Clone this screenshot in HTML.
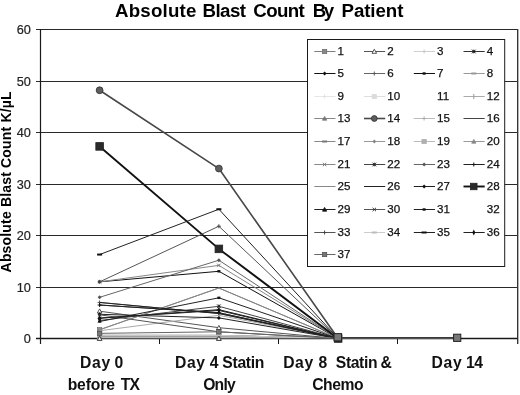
<!DOCTYPE html><html><head><meta charset="utf-8"><style>
html,body{margin:0;padding:0;background:#fff;}
svg{filter:grayscale(1) blur(0.45px);}
body{width:520px;height:395px;overflow:hidden;}
svg{display:block;}
text{font-family:"Liberation Sans",sans-serif;}
</style></head><body>
<svg width="520" height="395" viewBox="0 0 520 395">
<rect x="0" y="0" width="520" height="395" fill="#fff"/>
<text x="115.0" y="17" font-weight="bold" font-size="18.7" textLength="81.35" lengthAdjust="spacing" fill="#000">Absolute</text>
<text x="202.5" y="17" font-weight="bold" font-size="18.7" textLength="43.49" lengthAdjust="spacing" fill="#000">Blast</text>
<text x="253.3" y="17" font-weight="bold" font-size="18.7" textLength="51.38" lengthAdjust="spacing" fill="#000">Count</text>
<text x="312.75" y="17" font-weight="bold" font-size="18.7" textLength="21.39" lengthAdjust="spacing" fill="#000">By</text>
<text x="341.5" y="17" font-weight="bold" font-size="18.7" textLength="61.9" lengthAdjust="spacing" fill="#000">Patient</text>
<text transform="translate(11.0,272.4) rotate(-90)" x="0" y="0" font-weight="bold" font-size="14" textLength="180.97" lengthAdjust="spacing" fill="#000">Absolute Blast Count K/µL</text>
<line x1="36" y1="29.5" x2="517" y2="29.5" stroke="#2a2a2a" stroke-width="1"/>
<line x1="36" y1="81.5" x2="517" y2="81.5" stroke="#2a2a2a" stroke-width="1"/>
<line x1="36" y1="132.5" x2="517" y2="132.5" stroke="#2a2a2a" stroke-width="1"/>
<line x1="36" y1="184.5" x2="517" y2="184.5" stroke="#2a2a2a" stroke-width="1"/>
<line x1="36" y1="235.5" x2="517" y2="235.5" stroke="#2a2a2a" stroke-width="1"/>
<line x1="36" y1="287.5" x2="517" y2="287.5" stroke="#2a2a2a" stroke-width="1"/>
<line x1="36" y1="338.5" x2="518" y2="338.5" stroke="#1a1a1a" stroke-width="1.3"/>
<line x1="40.5" y1="29" x2="40.5" y2="344" stroke="#1a1a1a" stroke-width="1.2"/>
<line x1="517.7" y1="29" x2="517.7" y2="344" stroke="#2a2a2a" stroke-width="1.3"/>
<line x1="159.5" y1="338" x2="159.5" y2="344" stroke="#1a1a1a" stroke-width="1"/>
<line x1="278.5" y1="338" x2="278.5" y2="344" stroke="#1a1a1a" stroke-width="1"/>
<line x1="397.5" y1="338" x2="397.5" y2="344" stroke="#1a1a1a" stroke-width="1"/>
<text x="30.9" y="34.4" text-anchor="end" font-size="12.7" fill="#222" stroke="#222" stroke-width="0.2">60</text>
<text x="30.9" y="86.4" text-anchor="end" font-size="12.7" fill="#222" stroke="#222" stroke-width="0.2">50</text>
<text x="30.9" y="137.4" text-anchor="end" font-size="12.7" fill="#222" stroke="#222" stroke-width="0.2">40</text>
<text x="30.9" y="189.4" text-anchor="end" font-size="12.7" fill="#222" stroke="#222" stroke-width="0.2">30</text>
<text x="30.9" y="240.4" text-anchor="end" font-size="12.7" fill="#222" stroke="#222" stroke-width="0.2">20</text>
<text x="30.9" y="292.4" text-anchor="end" font-size="12.7" fill="#222" stroke="#222" stroke-width="0.2">10</text>
<text x="30.9" y="343.4" text-anchor="end" font-size="12.7" fill="#222" stroke="#222" stroke-width="0.2">0</text>
<text x="80.0" y="368" font-weight="bold" font-size="15.7" textLength="30.17" lengthAdjust="spacing" fill="#111">Day</text>
<text x="114.5" y="368" font-weight="bold" font-size="15.7" fill="#111">0</text>
<text x="174.9" y="368" font-weight="bold" font-size="15.7" textLength="30.17" lengthAdjust="spacing" fill="#111">Day</text>
<text x="209.8" y="368" font-weight="bold" font-size="15.7" fill="#111">4</text>
<text x="222.3" y="368" font-weight="bold" font-size="15.7" textLength="42.16" lengthAdjust="spacing" fill="#111">Statin</text>
<text x="283.2" y="368" font-weight="bold" font-size="15.7" textLength="29.97" lengthAdjust="spacing" fill="#111">Day</text>
<text x="318.6" y="368" font-weight="bold" font-size="15.7" fill="#111">8</text>
<text x="335.8" y="368" font-weight="bold" font-size="15.7" textLength="41.76" lengthAdjust="spacing" fill="#111">Statin</text>
<text x="380.6" y="368" font-weight="bold" font-size="15.7" fill="#111">&amp;</text>
<text x="431.5" y="368" font-weight="bold" font-size="15.7" textLength="30.17" lengthAdjust="spacing" fill="#111">Day</text>
<text x="465.9" y="368" font-weight="bold" font-size="15.7" textLength="17.04" lengthAdjust="spacing" fill="#111">14</text>
<text x="67.65" y="390" font-weight="bold" font-size="15.7" textLength="47.22" lengthAdjust="spacing" fill="#111">before</text>
<text x="120.8" y="390" font-weight="bold" font-size="15.7" textLength="19.05" lengthAdjust="spacing" fill="#111">TX</text>
<text x="203.2" y="390" font-weight="bold" font-size="15.7" textLength="32.46" lengthAdjust="spacing" fill="#111">Only</text>
<text x="312.2" y="390" font-weight="bold" font-size="15.7" textLength="51.36" lengthAdjust="spacing" fill="#111">Chemo</text>
<path d="M99.62 329.75 L218.88 288.03 L338.12 338.50" fill="none" stroke="#808080" stroke-width="1" stroke-linejoin="round"/>
<rect x="97.42" y="327.55" width="4.40" height="4.40" fill="#888" stroke="#666" stroke-width="0.6"/>
<rect x="335.93" y="336.30" width="4.40" height="4.40" fill="#888" stroke="#666" stroke-width="0.6"/>
<path d="M99.62 311.20 L218.88 327.69 L338.12 338.50" fill="none" stroke="#555" stroke-width="1" stroke-linejoin="round"/>
<path d="M99.62 308.90L101.92 313.04L97.33 313.04Z" fill="#fff" stroke="#444" stroke-width="0.9"/>
<path d="M218.88 325.38L221.18 329.52L216.57 329.52Z" fill="#fff" stroke="#444" stroke-width="0.9"/>
<path d="M338.12 336.20L340.43 340.34L335.82 340.34Z" fill="#fff" stroke="#444" stroke-width="0.9"/>
<path d="M99.62 336.70 L218.88 336.70 L338.12 338.50" fill="none" stroke="#cfcfcf" stroke-width="1" stroke-linejoin="round"/>
<path d="M99.62 334.70V338.70M97.62 336.70H101.62" stroke="#c8c8c8" stroke-width="1"/>
<path d="M218.88 334.70V338.70M216.88 336.70H220.88" stroke="#c8c8c8" stroke-width="1"/>
<path d="M338.12 336.50V340.50M336.12 338.50H340.12" stroke="#c8c8c8" stroke-width="1"/>
<path d="M99.62 338.50 L218.88 338.50 L338.12 338.50" fill="none" stroke="#333" stroke-width="1" stroke-linejoin="round"/>
<path d="M97.83 336.70L101.42 340.30M101.42 336.70L97.83 340.30M99.62 336.70V340.30" stroke="#111" stroke-width="1"/>
<path d="M217.07 336.70L220.68 340.30M220.68 336.70L217.07 340.30M218.88 336.70V340.30" stroke="#111" stroke-width="1"/>
<path d="M336.32 336.70L339.93 340.30M339.93 336.70L336.32 340.30M338.12 336.70V340.30" stroke="#111" stroke-width="1"/>
<path d="M99.62 318.16 L218.88 309.66 L338.12 338.50" fill="none" stroke="#111" stroke-width="1" stroke-linejoin="round"/>
<path d="M99.62 316.16L101.62 318.16L99.62 320.16L97.62 318.16Z" fill="#111"/>
<path d="M218.88 307.66L220.88 309.66L218.88 311.66L216.88 309.66Z" fill="#111"/>
<path d="M338.12 336.50L340.12 338.50L338.12 340.50L336.12 338.50Z" fill="#111"/>
<path d="M99.62 302.45 L218.88 313.52 L338.12 338.50" fill="none" stroke="#666" stroke-width="1" stroke-linejoin="round"/>
<path d="M99.62 300.45V304.45M97.62 302.45H101.62" stroke="#555" stroke-width="1"/>
<path d="M218.88 311.52V315.52M216.88 313.52H220.88" stroke="#555" stroke-width="1"/>
<path d="M338.12 336.50V340.50M336.12 338.50H340.12" stroke="#555" stroke-width="1"/>
<path d="M99.62 281.85 L218.88 271.29 L338.12 338.50" fill="none" stroke="#111" stroke-width="1" stroke-linejoin="round"/>
<rect x="98.12" y="280.65" width="3.00" height="2.40" fill="#111"/>
<rect x="217.38" y="270.09" width="3.00" height="2.40" fill="#111"/>
<rect x="336.62" y="337.30" width="3.00" height="2.40" fill="#111"/>
<path d="M99.62 335.41 L218.88 335.41 L338.12 338.50" fill="none" stroke="#9a9a9a" stroke-width="1" stroke-linejoin="round"/>
<rect x="97.12" y="334.41" width="5.00" height="2.00" fill="#999"/>
<rect x="216.38" y="334.41" width="5.00" height="2.00" fill="#999"/>
<rect x="335.62" y="337.50" width="5.00" height="2.00" fill="#999"/>
<path d="M99.62 336.70 L218.88 336.70 L338.12 338.50" fill="none" stroke="#e6e6e6" stroke-width="1" stroke-linejoin="round"/>
<path d="M99.62 334.70V338.70M97.62 336.70H101.62" stroke="#e0e0e0" stroke-width="1"/>
<path d="M218.88 334.70V338.70M216.88 336.70H220.88" stroke="#e0e0e0" stroke-width="1"/>
<path d="M338.12 336.50V340.50M336.12 338.50H340.12" stroke="#e0e0e0" stroke-width="1"/>
<path d="M99.62 336.70 L218.88 336.70 L338.12 338.50" fill="none" stroke="#dedede" stroke-width="1" stroke-linejoin="round"/>
<rect x="97.42" y="334.50" width="4.40" height="4.40" fill="#dcdcdc" stroke="#d8d8d8" stroke-width="0.6"/>
<rect x="216.68" y="334.50" width="4.40" height="4.40" fill="#dcdcdc" stroke="#d8d8d8" stroke-width="0.6"/>
<rect x="335.93" y="336.30" width="4.40" height="4.40" fill="#dcdcdc" stroke="#d8d8d8" stroke-width="0.6"/>
<path d="M99.62 330.77 L218.88 315.32 L338.12 338.50" fill="none" stroke="#aaa" stroke-width="1" stroke-linejoin="round"/>
<path d="M99.62 328.17V333.38" stroke="#999" stroke-width="1"/>
<path d="M218.88 312.72V317.93" stroke="#999" stroke-width="1"/>
<path d="M338.12 335.90V341.10" stroke="#999" stroke-width="1"/>
<path d="M99.62 335.41 L218.88 335.41 L338.12 338.50" fill="none" stroke="#888" stroke-width="1" stroke-linejoin="round"/>
<path d="M99.62 333.31L101.72 337.09L97.53 337.09Z" fill="#777" stroke="#777" stroke-width="0.8"/>
<path d="M218.88 333.31L220.97 337.09L216.78 337.09Z" fill="#777" stroke="#777" stroke-width="0.8"/>
<path d="M338.12 336.40L340.23 340.18L336.02 340.18Z" fill="#777" stroke="#777" stroke-width="0.8"/>
<path d="M99.62 90.27 L218.88 168.55 L338.12 338.50" fill="none" stroke="#484848" stroke-width="1.6" stroke-linejoin="round"/>
<circle cx="99.62" cy="90.27" r="3.40" fill="#5e5e5e" stroke="#383838" stroke-width="0.9"/>
<circle cx="218.88" cy="168.55" r="3.40" fill="#5e5e5e" stroke="#383838" stroke-width="0.9"/>
<circle cx="338.12" cy="338.50" r="3.40" fill="#5e5e5e" stroke="#383838" stroke-width="0.9"/>
<path d="M99.62 335.41 L218.88 335.41 L338.12 338.50" fill="none" stroke="#bbb" stroke-width="1" stroke-linejoin="round"/>
<path d="M99.62 333.41V337.41M97.62 335.41H101.62" stroke="#aaa" stroke-width="1"/>
<path d="M218.88 333.41V337.41M216.88 335.41H220.88" stroke="#aaa" stroke-width="1"/>
<path d="M338.12 336.50V340.50M336.12 338.50H340.12" stroke="#aaa" stroke-width="1"/>
<path d="M99.62 305.02 L218.88 312.75 L338.12 338.50" fill="none" stroke="#444" stroke-width="1" stroke-linejoin="round"/>



<path d="M99.62 335.41 L218.88 335.41 L338.12 338.50" fill="none" stroke="#888" stroke-width="1" stroke-linejoin="round"/>
<rect x="97.12" y="334.41" width="5.00" height="2.00" fill="#777"/>
<rect x="216.38" y="334.41" width="5.00" height="2.00" fill="#777"/>
<rect x="335.62" y="337.50" width="5.00" height="2.00" fill="#777"/>
<path d="M99.62 336.70 L218.88 336.70 L338.12 338.50" fill="none" stroke="#999" stroke-width="1" stroke-linejoin="round"/>
<path d="M99.62 334.70L101.62 336.70L99.62 338.70L97.62 336.70Z" fill="#888"/>
<path d="M218.88 334.70L220.88 336.70L218.88 338.70L216.88 336.70Z" fill="#888"/>
<path d="M338.12 336.50L340.12 338.50L338.12 340.50L336.12 338.50Z" fill="#888"/>
<path d="M99.62 336.70 L218.88 336.70 L338.12 338.50" fill="none" stroke="#bbb" stroke-width="1" stroke-linejoin="round"/>
<rect x="97.42" y="334.50" width="4.40" height="4.40" fill="#b0b0b0" stroke="#aaa" stroke-width="0.6"/>
<rect x="216.68" y="334.50" width="4.40" height="4.40" fill="#b0b0b0" stroke="#aaa" stroke-width="0.6"/>
<rect x="335.93" y="336.30" width="4.40" height="4.40" fill="#b0b0b0" stroke="#aaa" stroke-width="0.6"/>
<path d="M99.62 336.70 L218.88 336.70 L338.12 338.50" fill="none" stroke="#999" stroke-width="1" stroke-linejoin="round"/>
<path d="M99.62 334.60L101.72 338.38L97.53 338.38Z" fill="#888" stroke="#888" stroke-width="0.8"/>
<path d="M218.88 334.60L220.97 338.38L216.78 338.38Z" fill="#888" stroke="#888" stroke-width="0.8"/>
<path d="M338.12 336.40L340.23 340.18L336.02 340.18Z" fill="#888" stroke="#888" stroke-width="0.8"/>
<path d="M99.62 281.85 L218.88 265.37 L338.12 338.50" fill="none" stroke="#888" stroke-width="1" stroke-linejoin="round"/>
<path d="M97.92 280.15L101.33 283.55M101.33 280.15L97.92 283.55" stroke="#777" stroke-width="1"/>
<path d="M217.18 263.67L220.57 267.07M220.57 263.67L217.18 267.07" stroke="#777" stroke-width="1"/>
<path d="M336.43 336.80L339.82 340.20M339.82 336.80L336.43 340.20" stroke="#777" stroke-width="1"/>
<path d="M99.62 320.48 L218.88 306.31 L338.12 338.50" fill="none" stroke="#444" stroke-width="1" stroke-linejoin="round"/>
<path d="M97.83 318.68L101.42 322.28M101.42 318.68L97.83 322.28M99.62 318.68V322.28" stroke="#222" stroke-width="1"/>
<path d="M217.07 304.51L220.68 308.11M220.68 304.51L217.07 308.11M218.88 304.51V308.11" stroke="#222" stroke-width="1"/>
<path d="M336.32 336.70L339.93 340.30M339.93 336.70L336.32 340.30M338.12 336.70V340.30" stroke="#222" stroke-width="1"/>
<path d="M99.62 297.30 L218.88 260.22 L338.12 338.50" fill="none" stroke="#666" stroke-width="1" stroke-linejoin="round"/>
<path d="M99.62 295.30L101.62 297.30L99.62 299.30L97.62 297.30Z" fill="#555"/>
<path d="M218.88 258.22L220.88 260.22L218.88 262.22L216.88 260.22Z" fill="#555"/>
<path d="M338.12 336.50L340.12 338.50L338.12 340.50L336.12 338.50Z" fill="#555"/>
<path d="M99.62 305.02 L218.88 312.75 L338.12 338.50" fill="none" stroke="#222" stroke-width="1" stroke-linejoin="round"/>
<path d="M99.62 303.02V307.02M97.62 305.02H101.62" stroke="#111" stroke-width="1"/>
<path d="M218.88 310.75V314.75M216.88 312.75H220.88" stroke="#111" stroke-width="1"/>
<path d="M338.12 336.50V340.50M336.12 338.50H340.12" stroke="#111" stroke-width="1"/>
<path d="M99.62 329.75 L218.88 288.03 L338.12 338.50" fill="none" stroke="#888" stroke-width="1" stroke-linejoin="round"/>



<path d="M99.62 302.45 L218.88 313.52 L338.12 338.50" fill="none" stroke="#222" stroke-width="1" stroke-linejoin="round"/>



<path d="M99.62 314.30 L218.88 317.90 L338.12 338.50" fill="none" stroke="#222" stroke-width="1" stroke-linejoin="round"/>
<path d="M99.62 312.30L101.62 314.30L99.62 316.30L97.62 314.30Z" fill="#111"/>
<path d="M218.88 315.90L220.88 317.90L218.88 319.90L216.88 317.90Z" fill="#111"/>
<path d="M338.12 336.50L340.12 338.50L338.12 340.50L336.12 338.50Z" fill="#111"/>
<path d="M99.62 146.41 L218.88 248.89 L338.12 338.50" fill="none" stroke="#111" stroke-width="1.9" stroke-linejoin="round"/>
<rect x="95.83" y="142.60" width="7.60" height="7.60" fill="#2a2a2a" stroke="#222" stroke-width="0.8"/>
<rect x="215.07" y="245.09" width="7.60" height="7.60" fill="#2a2a2a" stroke="#222" stroke-width="0.8"/>
<rect x="334.32" y="334.70" width="7.60" height="7.60" fill="#2a2a2a" stroke="#222" stroke-width="0.8"/>
<path d="M99.62 338.50 L218.88 338.50 L338.12 338.50" fill="none" stroke="#222" stroke-width="1" stroke-linejoin="round"/>
<path d="M99.62 336.40L101.72 340.18L97.53 340.18Z" fill="#111" stroke="#111" stroke-width="0.8"/>
<path d="M218.88 336.40L220.97 340.18L216.78 340.18Z" fill="#111" stroke="#111" stroke-width="0.8"/>
<path d="M338.12 336.40L340.23 340.18L336.02 340.18Z" fill="#111" stroke="#111" stroke-width="0.8"/>
<path d="M99.62 314.81 L218.88 331.81 L338.12 338.50" fill="none" stroke="#555" stroke-width="1" stroke-linejoin="round"/>
<path d="M97.92 313.11L101.33 316.51M101.33 313.11L97.92 316.51" stroke="#333" stroke-width="1"/>
<path d="M217.18 330.11L220.57 333.50M220.57 330.11L217.18 333.50" stroke="#333" stroke-width="1"/>
<path d="M336.43 336.80L339.82 340.20M339.82 336.80L336.43 340.20" stroke="#333" stroke-width="1"/>
<path d="M99.62 321.50 L218.88 297.81 L338.12 338.50" fill="none" stroke="#222" stroke-width="1" stroke-linejoin="round"/>
<rect x="98.12" y="320.31" width="3.00" height="2.40" fill="#111"/>
<rect x="217.38" y="296.62" width="3.00" height="2.40" fill="#111"/>
<rect x="336.62" y="337.30" width="3.00" height="2.40" fill="#111"/>
<path d="M99.62 281.85 L218.88 226.23 L338.12 338.50" fill="none" stroke="#555" stroke-width="1" stroke-linejoin="round"/>
<path d="M99.62 279.85V283.85M97.62 281.85H101.62" stroke="#444" stroke-width="1"/>
<path d="M218.88 224.23V228.23M216.88 226.23H220.88" stroke="#444" stroke-width="1"/>
<path d="M338.12 336.50V340.50M336.12 338.50H340.12" stroke="#444" stroke-width="1"/>
<path d="M99.62 335.41 L218.88 335.41 L338.12 338.50" fill="none" stroke="#ccc" stroke-width="1" stroke-linejoin="round"/>
<rect x="97.12" y="334.41" width="5.00" height="2.00" fill="#bbb"/>
<rect x="216.38" y="334.41" width="5.00" height="2.00" fill="#bbb"/>
<rect x="335.62" y="337.50" width="5.00" height="2.00" fill="#bbb"/>
<path d="M99.62 254.56 L218.88 209.23 L338.12 338.50" fill="none" stroke="#222" stroke-width="1" stroke-linejoin="round"/>
<rect x="97.12" y="253.56" width="5.00" height="2.00" fill="#111"/>
<rect x="216.38" y="208.23" width="5.00" height="2.00" fill="#111"/>
<rect x="335.62" y="337.50" width="5.00" height="2.00" fill="#111"/>
<path d="M99.62 318.16 L218.88 310.43 L338.12 338.50" fill="none" stroke="#222" stroke-width="1" stroke-linejoin="round"/>
<path d="M99.62 315.16L101.12 318.16L99.62 321.16L98.12 318.16Z" fill="#111"/>
<path d="M218.88 307.43L220.38 310.43L218.88 313.43L217.38 310.43Z" fill="#111"/>
<path d="M338.12 335.50L339.62 338.50L338.12 341.50L336.62 338.50Z" fill="#111"/>
<path d="M99.62 333.35 L218.88 331.81 L338.12 338.50 L457.38 338.50" fill="none" stroke="#666" stroke-width="1" stroke-linejoin="round"/>
<rect x="97.42" y="331.15" width="4.40" height="4.40" fill="#777" stroke="#444" stroke-width="0.6"/>
<rect x="216.68" y="329.61" width="4.40" height="4.40" fill="#777" stroke="#444" stroke-width="0.6"/>
<rect x="335.93" y="336.30" width="4.40" height="4.40" fill="#777" stroke="#444" stroke-width="0.6"/>
<rect x="455.18" y="336.30" width="4.40" height="4.40" fill="#777" stroke="#444" stroke-width="0.6"/>
<path d="M99.62 338.50 L218.88 338.50 L338.12 338.50" fill="none" stroke="#555" stroke-width="1" stroke-linejoin="round"/>
<path d="M99.62 336.20L101.92 340.34L97.33 340.34Z" fill="#fff" stroke="#444" stroke-width="0.9"/>
<path d="M218.88 336.20L221.18 340.34L216.57 340.34Z" fill="#fff" stroke="#444" stroke-width="0.9"/>
<path d="M338.12 336.20L340.43 340.34L335.82 340.34Z" fill="#fff" stroke="#444" stroke-width="0.9"/>
<line x1="338" y1="337.8" x2="457" y2="337.8" stroke="#3a3a3a" stroke-width="1.4"/>
<rect x="334.0" y="333.6" width="7.6" height="7.3" fill="#777" stroke="#222" stroke-width="1"/>
<rect x="453.6" y="334.2" width="7.2" height="7.2" fill="#777" stroke="#222" stroke-width="1"/>
<rect x="307.5" y="39.5" width="197.2" height="227" fill="#fff" stroke="#1a1a1a" stroke-width="1"/>
<line x1="314.3" y1="51.50" x2="335.50" y2="51.50" stroke="#808080" stroke-width="1"/>
<rect x="322.40" y="49.30" width="4.40" height="4.40" fill="#888" stroke="#666" stroke-width="0.6"/>
<text x="337.60" y="55.25" font-size="11.6" fill="#111" stroke="#111" stroke-width="0.25">1</text>
<line x1="364.0" y1="51.50" x2="385.20" y2="51.50" stroke="#555" stroke-width="1"/>
<path d="M374.30 49.20L376.60 53.34L372.00 53.34Z" fill="#fff" stroke="#444" stroke-width="0.9"/>
<text x="387.30" y="55.25" font-size="11.6" fill="#111" stroke="#111" stroke-width="0.25">2</text>
<line x1="413.8" y1="51.50" x2="435.00" y2="51.50" stroke="#cfcfcf" stroke-width="1"/>
<path d="M424.10 49.50V53.50M422.10 51.50H426.10" stroke="#c8c8c8" stroke-width="1"/>
<text x="437.10" y="55.25" font-size="11.6" fill="#111" stroke="#111" stroke-width="0.25">3</text>
<line x1="463.5" y1="51.50" x2="484.70" y2="51.50" stroke="#333" stroke-width="1"/>
<path d="M472.00 49.70L475.60 53.30M475.60 49.70L472.00 53.30M473.80 49.70V53.30" stroke="#111" stroke-width="1"/>
<text x="486.80" y="55.25" font-size="11.6" fill="#111" stroke="#111" stroke-width="0.25">4</text>
<line x1="314.3" y1="73.50" x2="335.50" y2="73.50" stroke="#111" stroke-width="1"/>
<path d="M324.60 71.50L326.60 73.50L324.60 75.50L322.60 73.50Z" fill="#111"/>
<text x="337.60" y="77.25" font-size="11.6" fill="#111" stroke="#111" stroke-width="0.25">5</text>
<line x1="364.0" y1="73.50" x2="385.20" y2="73.50" stroke="#666" stroke-width="1"/>
<path d="M374.30 71.50V75.50M372.30 73.50H376.30" stroke="#555" stroke-width="1"/>
<text x="387.30" y="77.25" font-size="11.6" fill="#111" stroke="#111" stroke-width="0.25">6</text>
<line x1="413.8" y1="73.50" x2="435.00" y2="73.50" stroke="#111" stroke-width="1"/>
<rect x="422.60" y="72.30" width="3.00" height="2.40" fill="#111"/>
<text x="437.10" y="77.25" font-size="11.6" fill="#111" stroke="#111" stroke-width="0.25">7</text>
<line x1="463.5" y1="73.50" x2="484.70" y2="73.50" stroke="#9a9a9a" stroke-width="1"/>
<rect x="471.30" y="72.50" width="5.00" height="2.00" fill="#999"/>
<text x="486.80" y="77.25" font-size="11.6" fill="#111" stroke="#111" stroke-width="0.25">8</text>
<line x1="314.3" y1="96.50" x2="335.50" y2="96.50" stroke="#e6e6e6" stroke-width="1"/>
<path d="M324.60 94.50V98.50M322.60 96.50H326.60" stroke="#e0e0e0" stroke-width="1"/>
<text x="337.60" y="100.25" font-size="11.6" fill="#111" stroke="#111" stroke-width="0.25">9</text>
<line x1="364.0" y1="96.50" x2="385.20" y2="96.50" stroke="#dedede" stroke-width="1"/>
<rect x="372.10" y="94.30" width="4.40" height="4.40" fill="#dcdcdc" stroke="#d8d8d8" stroke-width="0.6"/>
<text x="387.30" y="100.25" font-size="11.6" fill="#111" stroke="#111" stroke-width="0.25">10</text>
<text x="437.10" y="100.25" font-size="11.6" fill="#111" stroke="#111" stroke-width="0.25">11</text>
<line x1="463.5" y1="96.50" x2="484.70" y2="96.50" stroke="#aaa" stroke-width="1"/>
<path d="M473.80 93.90V99.10" stroke="#999" stroke-width="1"/>
<text x="486.80" y="100.25" font-size="11.6" fill="#111" stroke="#111" stroke-width="0.25">12</text>
<line x1="314.3" y1="118.50" x2="335.50" y2="118.50" stroke="#888" stroke-width="1"/>
<path d="M324.60 116.40L326.70 120.18L322.50 120.18Z" fill="#777" stroke="#777" stroke-width="0.8"/>
<text x="337.60" y="122.25" font-size="11.6" fill="#111" stroke="#111" stroke-width="0.25">13</text>
<line x1="364.0" y1="118.50" x2="385.20" y2="118.50" stroke="#484848" stroke-width="1.6"/>
<circle cx="374.30" cy="118.50" r="2.89" fill="#5e5e5e" stroke="#383838" stroke-width="0.9"/>
<text x="387.30" y="122.25" font-size="11.6" fill="#111" stroke="#111" stroke-width="0.25">14</text>
<line x1="413.8" y1="118.50" x2="435.00" y2="118.50" stroke="#bbb" stroke-width="1"/>
<path d="M424.10 116.50V120.50M422.10 118.50H426.10" stroke="#aaa" stroke-width="1"/>
<text x="437.10" y="122.25" font-size="11.6" fill="#111" stroke="#111" stroke-width="0.25">15</text>
<line x1="463.5" y1="118.50" x2="484.70" y2="118.50" stroke="#444" stroke-width="1"/>

<text x="486.80" y="122.25" font-size="11.6" fill="#111" stroke="#111" stroke-width="0.25">16</text>
<line x1="314.3" y1="141.50" x2="335.50" y2="141.50" stroke="#888" stroke-width="1"/>
<rect x="322.10" y="140.50" width="5.00" height="2.00" fill="#777"/>
<text x="337.60" y="145.25" font-size="11.6" fill="#111" stroke="#111" stroke-width="0.25">17</text>
<line x1="364.0" y1="141.50" x2="385.20" y2="141.50" stroke="#999" stroke-width="1"/>
<path d="M374.30 139.50L376.30 141.50L374.30 143.50L372.30 141.50Z" fill="#888"/>
<text x="387.30" y="145.25" font-size="11.6" fill="#111" stroke="#111" stroke-width="0.25">18</text>
<line x1="413.8" y1="141.50" x2="435.00" y2="141.50" stroke="#bbb" stroke-width="1"/>
<rect x="421.90" y="139.30" width="4.40" height="4.40" fill="#b0b0b0" stroke="#aaa" stroke-width="0.6"/>
<text x="437.10" y="145.25" font-size="11.6" fill="#111" stroke="#111" stroke-width="0.25">19</text>
<line x1="463.5" y1="141.50" x2="484.70" y2="141.50" stroke="#999" stroke-width="1"/>
<path d="M473.80 139.40L475.90 143.18L471.70 143.18Z" fill="#888" stroke="#888" stroke-width="0.8"/>
<text x="486.80" y="145.25" font-size="11.6" fill="#111" stroke="#111" stroke-width="0.25">20</text>
<line x1="314.3" y1="164.50" x2="335.50" y2="164.50" stroke="#888" stroke-width="1"/>
<path d="M322.90 162.80L326.30 166.20M326.30 162.80L322.90 166.20" stroke="#777" stroke-width="1"/>
<text x="337.60" y="168.25" font-size="11.6" fill="#111" stroke="#111" stroke-width="0.25">21</text>
<line x1="364.0" y1="164.50" x2="385.20" y2="164.50" stroke="#444" stroke-width="1"/>
<path d="M372.50 162.70L376.10 166.30M376.10 162.70L372.50 166.30M374.30 162.70V166.30" stroke="#222" stroke-width="1"/>
<text x="387.30" y="168.25" font-size="11.6" fill="#111" stroke="#111" stroke-width="0.25">22</text>
<line x1="413.8" y1="164.50" x2="435.00" y2="164.50" stroke="#666" stroke-width="1"/>
<path d="M424.10 162.50L426.10 164.50L424.10 166.50L422.10 164.50Z" fill="#555"/>
<text x="437.10" y="168.25" font-size="11.6" fill="#111" stroke="#111" stroke-width="0.25">23</text>
<line x1="463.5" y1="164.50" x2="484.70" y2="164.50" stroke="#222" stroke-width="1"/>
<path d="M473.80 162.50V166.50M471.80 164.50H475.80" stroke="#111" stroke-width="1"/>
<text x="486.80" y="168.25" font-size="11.6" fill="#111" stroke="#111" stroke-width="0.25">24</text>
<line x1="314.3" y1="186.50" x2="335.50" y2="186.50" stroke="#888" stroke-width="1"/>

<text x="337.60" y="190.25" font-size="11.6" fill="#111" stroke="#111" stroke-width="0.25">25</text>
<line x1="364.0" y1="186.50" x2="385.20" y2="186.50" stroke="#222" stroke-width="1"/>

<text x="387.30" y="190.25" font-size="11.6" fill="#111" stroke="#111" stroke-width="0.25">26</text>
<line x1="413.8" y1="186.50" x2="435.00" y2="186.50" stroke="#222" stroke-width="1"/>
<path d="M424.10 184.50L426.10 186.50L424.10 188.50L422.10 186.50Z" fill="#111"/>
<text x="437.10" y="190.25" font-size="11.6" fill="#111" stroke="#111" stroke-width="0.25">27</text>
<line x1="463.5" y1="186.50" x2="484.70" y2="186.50" stroke="#111" stroke-width="1.9"/>
<rect x="470.57" y="183.27" width="6.46" height="6.46" fill="#2a2a2a" stroke="#222" stroke-width="0.8"/>
<text x="486.80" y="190.25" font-size="11.6" fill="#111" stroke="#111" stroke-width="0.25">28</text>
<line x1="314.3" y1="209.50" x2="335.50" y2="209.50" stroke="#222" stroke-width="1"/>
<path d="M324.60 207.40L326.70 211.18L322.50 211.18Z" fill="#111" stroke="#111" stroke-width="0.8"/>
<text x="337.60" y="213.25" font-size="11.6" fill="#111" stroke="#111" stroke-width="0.25">29</text>
<line x1="364.0" y1="209.50" x2="385.20" y2="209.50" stroke="#555" stroke-width="1"/>
<path d="M372.60 207.80L376.00 211.20M376.00 207.80L372.60 211.20" stroke="#333" stroke-width="1"/>
<text x="387.30" y="213.25" font-size="11.6" fill="#111" stroke="#111" stroke-width="0.25">30</text>
<line x1="413.8" y1="209.50" x2="435.00" y2="209.50" stroke="#222" stroke-width="1"/>
<rect x="422.60" y="208.30" width="3.00" height="2.40" fill="#111"/>
<text x="437.10" y="213.25" font-size="11.6" fill="#111" stroke="#111" stroke-width="0.25">31</text>
<text x="486.80" y="213.25" font-size="11.6" fill="#111" stroke="#111" stroke-width="0.25">32</text>
<line x1="314.3" y1="232.50" x2="335.50" y2="232.50" stroke="#555" stroke-width="1"/>
<path d="M324.60 230.50V234.50M322.60 232.50H326.60" stroke="#444" stroke-width="1"/>
<text x="337.60" y="236.25" font-size="11.6" fill="#111" stroke="#111" stroke-width="0.25">33</text>
<line x1="364.0" y1="232.50" x2="385.20" y2="232.50" stroke="#ccc" stroke-width="1"/>
<rect x="371.80" y="231.50" width="5.00" height="2.00" fill="#bbb"/>
<text x="387.30" y="236.25" font-size="11.6" fill="#111" stroke="#111" stroke-width="0.25">34</text>
<line x1="413.8" y1="232.50" x2="435.00" y2="232.50" stroke="#222" stroke-width="1"/>
<rect x="421.60" y="231.50" width="5.00" height="2.00" fill="#111"/>
<text x="437.10" y="236.25" font-size="11.6" fill="#111" stroke="#111" stroke-width="0.25">35</text>
<line x1="463.5" y1="232.50" x2="484.70" y2="232.50" stroke="#222" stroke-width="1"/>
<path d="M473.80 229.50L475.30 232.50L473.80 235.50L472.30 232.50Z" fill="#111"/>
<text x="486.80" y="236.25" font-size="11.6" fill="#111" stroke="#111" stroke-width="0.25">36</text>
<line x1="314.3" y1="254.50" x2="335.50" y2="254.50" stroke="#666" stroke-width="1"/>
<rect x="322.40" y="252.30" width="4.40" height="4.40" fill="#777" stroke="#444" stroke-width="0.6"/>
<text x="337.60" y="258.25" font-size="11.6" fill="#111" stroke="#111" stroke-width="0.25">37</text>
</svg></body></html>
